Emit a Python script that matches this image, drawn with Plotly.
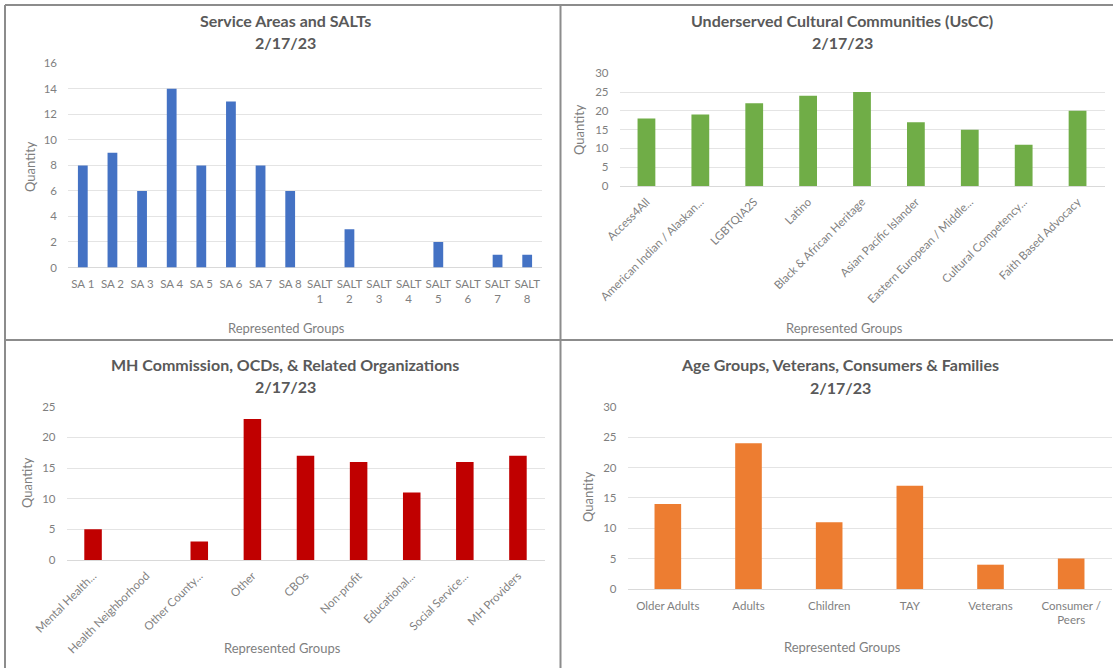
import plotly.graph_objects as go

W, H = 1113, 668

# --- data ---
sa_groups = ["SA 1", "SA 2", "SA 3", "SA 4", "SA 5", "SA 6", "SA 7", "SA 8",
             "SALT<br>1", "SALT<br>2", "SALT<br>3", "SALT<br>4", "SALT<br>5",
             "SALT<br>6", "SALT<br>7", "SALT<br>8"]
sa_counts = [8, 9, 6, 14, 8, 13, 8, 6, 0, 3, 0, 0, 2, 0, 1, 1]

uscc_groups = ["Access4All", "American Indian / Alaskan...", "LGBTQIA2S", "Latino",
               "Black & African Heritage", "Asian Pacific Islander",
               "Eastern European / Middle...", "Cultural Competency...",
               "Faith Based Advocacy"]
uscc_counts = [18, 19, 22, 24, 25, 17, 15, 11, 20]

mh_groups = ["Mental Health...", "Health Neighborhood", "Other County...", "Other",
             "CBOs", "Non-profit", "Educational...", "Social Service...",
             "MH Providers"]
mh_counts = [5, 0, 3, 23, 17, 16, 11, 16, 17]

age_groups = ["Older Adults", "Adults", "Children", "TAY", "Veterans",
              "Consumer /<br>Peers"]
age_counts = [14, 24, 11, 17, 4, 5]


def px_x(x):
    return x / W


def px_y(y):
    return 1 - y / H


FONT = "Lato, 'Open Sans', sans-serif"
TITLE_C = "#595959"
TICK_C = "#7f7f7f"
GRID_C = "#e4e4e4"

panels = [
    # pixel positions
    dict(x=sa_groups, y=sa_counts, color="#4472C4", ymax=16, dtick=2,
         xd=(68, 542), y0=267.5, ytop=63.3, title="Service Areas and SALTs",
         tx=285, ty=(20, 42.5), angle=0, ylab=(30, 167), xlab=(286, 327.5)),
    dict(x=uscc_groups, y=uscc_counts, color="#70AD47", ymax=30, dtick=5,
         xd=(619.5, 1104.5), y0=186, ytop=73.3,
         title="Underserved Cultural Communities (UsCC)",
         tx=842, ty=(20, 42.5), angle=-45, ylab=(579, 130), xlab=(844, 327.5)),
    dict(x=mh_groups, y=mh_counts, color="#C00000", ymax=25, dtick=5,
         xd=(66.5, 544.5), y0=560, ytop=406.7,
         title="MH Commission, OCDs, & Related Organizations",
         tx=285, ty=(365, 386.7), angle=-45, ylab=(27, 483), xlab=(282, 648)),
    dict(x=age_groups, y=age_counts, color="#ED7D31", ymax=30, dtick=5,
         xd=(627.5, 1111.5), y0=589, ytop=406.7,
         title="Age Groups, Veterans, Consumers & Families",
         tx=840, ty=(365, 387), angle=0, ylab=(588, 497), xlab=(842, 647)),
]

fig = go.Figure()
annotations = []
layout = {}

for i, p in enumerate(panels, start=1):
    xa = "x" if i == 1 else f"x{i}"
    ya = "y" if i == 1 else f"y{i}"
    fig.add_trace(go.Bar(
        x=p["x"], y=p["y"], xaxis=xa, yaxis=ya,
        marker=dict(color=p["color"], line=dict(width=0)),
        showlegend=False,
    ))
    layout[f"xaxis{'' if i == 1 else i}"] = dict(
        domain=[px_x(p["xd"][0]), px_x(p["xd"][1])],
        anchor=ya, showgrid=False, zeroline=False, showline=False,
        tickangle=p["angle"], ticks="", automargin=False,
        ticklabelstandoff=8 if p["angle"] == 0 else 6,
        tickfont=dict(family=FONT, size=11.5, color=TICK_C),
        fixedrange=True,
    )
    layout[f"yaxis{'' if i == 1 else i}"] = dict(
        domain=[px_y(p["y0"]), px_y(p["ytop"])],
        anchor=xa, range=[0, p["ymax"]], dtick=p["dtick"],
        showgrid=True, gridcolor=GRID_C, gridwidth=1,
        zeroline=True, zerolinecolor="#d9d9d9", zerolinewidth=1,
        showline=False, ticks="", automargin=False,
        ticklabelstandoff=10,
        tickfont=dict(family=FONT, size=11.5, color=TICK_C),
        fixedrange=True,
    )
    annotations.append(dict(
        text=f"<b>{p['title']}</b>", x=px_x(p["tx"]), y=px_y(p["ty"][0]),
        xref="paper", yref="paper", showarrow=False,
        xanchor="center", yanchor="middle",
        font=dict(family=FONT, size=16, color=TITLE_C),
    ))
    annotations.append(dict(
        text="<b>2/17/23</b>", x=px_x(p["tx"]), y=px_y(p["ty"][1]),
        xref="paper", yref="paper", showarrow=False,
        xanchor="center", yanchor="middle",
        font=dict(family=FONT, size=16, color=TITLE_C),
    ))
    annotations.append(dict(
        text="Quantity", x=px_x(p["ylab"][0]), y=px_y(p["ylab"][1]),
        xref="paper", yref="paper", showarrow=False, textangle=-90,
        xanchor="center", yanchor="middle",
        font=dict(family=FONT, size=13, color=TICK_C),
    ))
    annotations.append(dict(
        text="Represented Groups", x=px_x(p["xlab"][0]), y=px_y(p["xlab"][1]),
        xref="paper", yref="paper", showarrow=False,
        xanchor="center", yanchor="middle",
        font=dict(family=FONT, size=13, color=TICK_C),
    ))

# panel borders
border = dict(color="#8c8c8c", width=2)
shapes = [
    dict(type="line", xref="paper", yref="paper", x0=px_x(5), x1=px_x(5),
         y0=0, y1=px_y(5), line=border),
    dict(type="line", xref="paper", yref="paper", x0=px_x(5), x1=1,
         y0=px_y(5), y1=px_y(5), line=border),
    dict(type="line", xref="paper", yref="paper", x0=px_x(560.5), x1=px_x(560.5),
         y0=0, y1=px_y(5), line=border),
    dict(type="line", xref="paper", yref="paper", x0=px_x(5), x1=1,
         y0=px_y(340), y1=px_y(340), line=border),
]

fig.update_layout(
    width=W, height=H,
    margin=dict(l=0, r=0, t=0, b=0),
    paper_bgcolor="white", plot_bgcolor="white",
    bargap=0.67,
    annotations=annotations,
    shapes=shapes,
    **layout,
)

# page body has a default 8px margin; drop it so the figure sits at 0,0
fig.write_html("out.html", config={"displayModeBar": False},
               post_script="document.body.style.margin='0';")
